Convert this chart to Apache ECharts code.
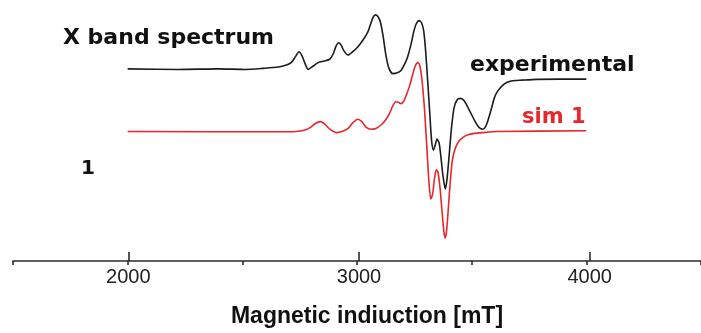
<!DOCTYPE html>
<html>
<head>
<meta charset="utf-8">
<script src="https://cdn.jsdelivr.net/npm/echarts@6/dist/echarts.min.js"></script>
<style>
  html, body { margin: 0; padding: 0; background: #fff; }
  #chart { width: 701px; height: 333px; }
</style>
</head>
<body>
<div id="chart"></div>
<script>
// X-band EPR spectrum: field in mT, derivative intensity in arbitrary units
const expField = [2000, 2223, 2397, 2514, 2592, 2657, 2692, 2714, 2731, 2747, 2761, 2774, 2787, 2809, 2831, 2857, 2881, 2896, 2909, 2920, 2930, 2943, 2961, 2983, 3004, 3026, 3048, 3061, 3071, 3080, 3091, 3102, 3113, 3126, 3139, 3156, 3173, 3191, 3208, 3221, 3235, 3247, 3258, 3271, 3282, 3291, 3299, 3308, 3317, 3325, 3333, 3340, 3349, 3358, 3366, 3375, 3385, 3392, 3402, 3412, 3423, 3436, 3452, 3468, 3489, 3516, 3533, 3549, 3564, 3582, 3599, 3612, 3641, 3672, 3720, 3785, 4000];
const expIntensity = [73.6, 73.4, 73.6, 73.4, 73.8, 74.3, 75.1, 76.1, 78.2, 80.2, 78.5, 75.5, 73.4, 74.7, 76.0, 76.6, 77.3, 79.3, 82.4, 83.6, 82.8, 80.5, 78.9, 80.3, 82.1, 84.7, 87.9, 91.2, 93.5, 94.3, 93.7, 91.6, 86.6, 78.9, 73.9, 71.8, 72.0, 72.9, 75.5, 78.3, 82.8, 87.7, 90.8, 92.1, 91.2, 88.1, 80.8, 69.3, 57.1, 46.4, 42.5, 44.1, 46.7, 45.2, 39.8, 32.6, 27.6, 31.0, 40.6, 51.0, 58.6, 61.7, 62.3, 61.3, 57.9, 53.3, 51.1, 50.5, 52.1, 57.1, 62.5, 64.9, 67.8, 69.0, 69.3, 69.6, 69.7];

const simField = [2000, 2701, 2744, 2773, 2796, 2818, 2841, 2861, 2883, 2910, 2935, 2961, 2983, 3004, 3022, 3039, 3062, 3082, 3105, 3126, 3142, 3156, 3170, 3182, 3192, 3204, 3217, 3229, 3241, 3254, 3265, 3273, 3282, 3294, 3304, 3314, 3322, 3330, 3337, 3346, 3353, 3362, 3371, 3379, 3385, 3391, 3399, 3408, 3416, 3429, 3445, 3464, 3481, 3512, 3547, 3612, 4000];
const simIntensity = [49.6, 49.5, 49.7, 50.2, 51.1, 52.7, 53.4, 52.3, 50.4, 49.2, 49.6, 50.8, 53.1, 54.3, 53.3, 51.3, 50.5, 50.8, 52.1, 54.2, 56.6, 59.4, 61.0, 60.7, 60.3, 61.3, 64.0, 67.0, 70.9, 74.7, 76.0, 75.1, 70.5, 58.6, 44.4, 29.9, 23.8, 25.7, 31.0, 34.9, 34.1, 28.0, 18.8, 11.1, 8.8, 11.9, 21.1, 31.8, 38.7, 43.3, 46.0, 47.5, 48.3, 48.9, 49.2, 49.6, 49.9];

// axis ranges: full field range with half-thousand ticks, labelled thousands
const fieldMin = 1500, fieldMax = 4500, minorStep = 500;
const labelMin = 2000, labelMax = 4000, majorStep = 1000;

const pair = (xs, ys) => xs.map((x, i) => [x, ys[i]]);

const black = '#1c1c1c';
const red = '#e8262c';
const axisColor = '#2a2a2a';

// plot frame: the labelled sub-range sits inside the full range on the same scale
const plotLeft = 13, plotWidth = 692, plotTop = 0, plotHeight = 261;
const pxPerMT = plotWidth / (fieldMax - fieldMin);
const labelLeft = plotLeft + (labelMin - fieldMin) * pxPerMT;
const labelWidth = (labelMax - labelMin) * pxPerMT;

const chart = echarts.init(document.getElementById('chart'), null, { renderer: 'canvas' });

chart.setOption({
  animation: false,
  backgroundColor: '#fff',
  grid: [
    { left: plotLeft, top: plotTop, width: plotWidth, height: plotHeight, containLabel: false },
    { left: labelLeft, top: plotTop, width: labelWidth, height: plotHeight, containLabel: false }
  ],
  xAxis: [
    {
      type: 'value', gridIndex: 0, min: fieldMin, max: fieldMax, interval: minorStep,
      splitLine: { show: false },
      axisLine: { show: true, lineStyle: { color: axisColor, width: 1.6 } },
      axisTick: { show: true, inside: false, length: 4, lineStyle: { color: axisColor, width: 1.6 } },
      axisLabel: { show: false }
    },
    {
      type: 'value', gridIndex: 1, min: labelMin, max: labelMax, interval: majorStep,
      splitLine: { show: false },
      axisLine: { show: false },
      axisTick: { show: true, inside: false, length: 9, lineStyle: { color: axisColor, width: 1.6 } },
      axisLabel: {
        show: true, margin: 15,
        fontFamily: 'Liberation Sans', fontSize: 20, color: '#222',
        formatter: v => String(v)
      },
      name: 'Magnetic indiuction [mT]',
      nameLocation: 'middle',
      nameGap: 53,
      nameTextStyle: {
        fontFamily: 'Liberation Sans', fontWeight: 'bold', fontSize: 23, color: '#111',
        verticalAlign: 'top', padding: [0, 0, 0, 16]
      }
    }
  ],
  yAxis: [
    { type: 'value', gridIndex: 0, min: 0, max: 100, show: false, splitLine: { show: false } },
    { type: 'value', gridIndex: 1, min: 0, max: 100, show: false, splitLine: { show: false } }
  ],
  series: [
    {
      name: 'experimental',
      type: 'line',
      xAxisIndex: 0, yAxisIndex: 0,
      data: pair(expField, expIntensity),
      showSymbol: false,
      smooth: 0.25,
      lineStyle: { color: black, width: 1.6 }
    },
    {
      name: 'sim 1',
      type: 'line',
      xAxisIndex: 0, yAxisIndex: 0,
      data: pair(simField, simIntensity),
      showSymbol: false,
      smooth: 0.25,
      lineStyle: { color: red, width: 1.6 }
    }
  ],
  graphic: [
    { type: 'text', left: 63, top: 27, style: { text: 'X band spectrum', fontFamily: 'DejaVu Sans', fontWeight: 'bold', fontSize: 22, fill: '#111' } },
    { type: 'text', left: 470, top: 54, style: { text: 'experimental', fontFamily: 'DejaVu Sans', fontWeight: 'bold', fontSize: 22, fill: '#111' } },
    { type: 'text', left: 522, top: 107, style: { text: 'sim 1', fontFamily: 'DejaVu Sans', fontWeight: 'bold', fontSize: 21, fill: red } },
    { type: 'text', left: 81, top: 159, style: { text: '1', fontFamily: 'DejaVu Sans', fontWeight: 'bold', fontSize: 20, fill: '#111' } }
  ]
});
</script>
</body>
</html>
